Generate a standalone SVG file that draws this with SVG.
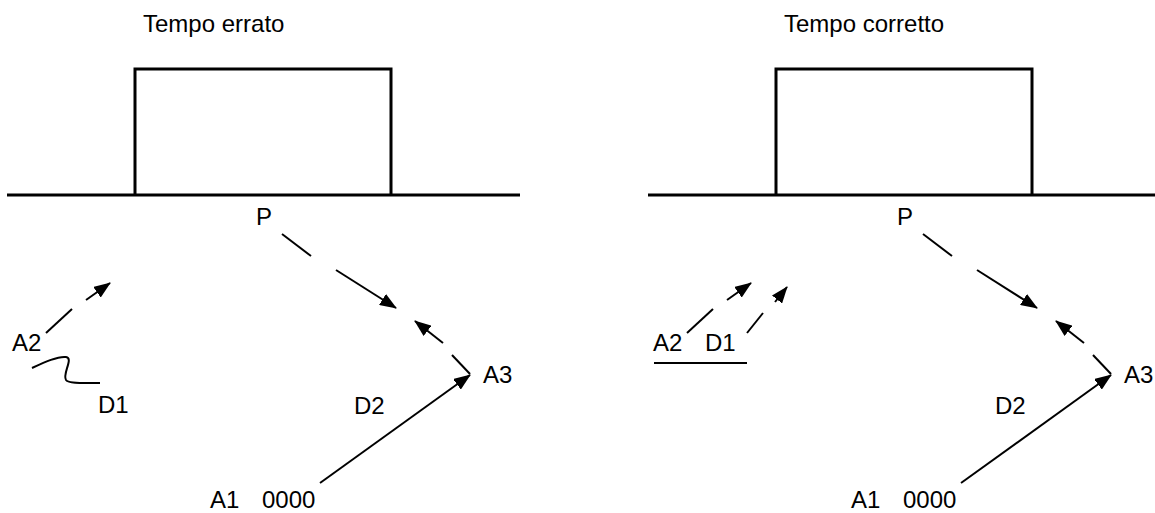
<svg xmlns="http://www.w3.org/2000/svg" width="1155" height="513" viewBox="0 0 1155 513">
  <style>
    .t { font-family: "Liberation Sans", Arial, sans-serif; font-size: 24px; fill: #000; }
    .thick { fill: none; stroke: #000; stroke-width: 3; }
    .ln { fill: none; stroke: #000; stroke-width: 2; }
  </style>
  <defs>
    <marker id="ah" markerUnits="userSpaceOnUse" markerWidth="17" markerHeight="13" refX="16" refY="6.5" orient="auto">
      <path d="M0,0 L17,6.5 L0,13 z" fill="#000"/>
    </marker>
  </defs>
  <rect width="1155" height="513" fill="#fff"/>

  <!-- Left panel -->
  <g id="left-panel">
    <text id="title-left" class="t" x="143" y="32">Tempo errato</text>
    <g id="pulse-left">
      <line class="thick" x1="7" y1="195" x2="520" y2="195"/>
      <polyline class="thick" points="135,195 135,69 391,69 391,195"/>
    </g>
    <text id="P-left" class="t" x="256" y="225">P</text>
    <text id="A3-left" class="t" x="483" y="383">A3</text>
    <text id="D2-left" class="t" x="354" y="414">D2</text>
    <text id="A1-left" class="t" x="210" y="508">A1</text>
    <text id="n0000-left" class="t" x="262" y="508">0000</text>
    <text id="A2-left" class="t" x="12" y="351">A2</text>
    <text id="D1-left" class="t" x="98" y="413">D1</text>
  </g>

  <!-- Right panel -->
  <g id="right-panel">
    <text id="title-right" class="t" x="784" y="32">Tempo corretto</text>
    <g id="pulse-right">
      <line class="thick" x1="648" y1="195" x2="1161" y2="195"/>
      <polyline class="thick" points="776,195 776,69 1032,69 1032,195"/>
    </g>
    <text id="P-right" class="t" x="897" y="225">P</text>
    <text id="A3-right" class="t" x="1124" y="383">A3</text>
    <text id="D2-right" class="t" x="995" y="414">D2</text>
    <text id="A1-right" class="t" x="851" y="508">A1</text>
    <text id="n0000-right" class="t" x="903" y="508">0000</text>
    <text id="A2-right" class="t" x="653" y="351">A2</text>
    <text id="D1-right" class="t" x="705" y="351">D1</text>
    <line id="underline-right" class="ln" x1="654" y1="363" x2="747" y2="363" stroke-width="1.5"/>
  </g>

  <g id="connectors">
    <!-- left -->
    <line class="ln" x1="282" y1="234" x2="311" y2="256"/>
    <line class="ln" x1="336" y1="270" x2="396" y2="308" marker-end="url(#ah)"/>
    <line class="ln" x1="452" y1="355" x2="470" y2="374"/>
    <line class="ln" x1="443" y1="343" x2="415" y2="321" marker-end="url(#ah)"/>
    <line class="ln" x1="320" y1="483" x2="470" y2="375" marker-end="url(#ah)"/>
    <line class="ln" x1="46" y1="333" x2="72" y2="309"/>
    <line class="ln" x1="86" y1="300" x2="110" y2="283" marker-end="url(#ah)"/>
    <path class="ln" d="M32,368 C45,362 58,356 66,357 C74,358 62,374 66,380 C69,384 84,383 100,383"/>
    <!-- right -->
    <line class="ln" x1="923" y1="234" x2="952" y2="256"/>
    <line class="ln" x1="977" y1="270" x2="1037" y2="308" marker-end="url(#ah)"/>
    <line class="ln" x1="1093" y1="355" x2="1111" y2="374"/>
    <line class="ln" x1="1084" y1="343" x2="1056" y2="321" marker-end="url(#ah)"/>
    <line class="ln" x1="961" y1="483" x2="1111" y2="375" marker-end="url(#ah)"/>
    <line class="ln" x1="687" y1="333" x2="713" y2="309"/>
    <line class="ln" x1="727" y1="300" x2="751" y2="283" marker-end="url(#ah)"/>
    <line class="ln" x1="747" y1="333" x2="763" y2="313"/>
    <line class="ln" x1="775" y1="302" x2="787" y2="287" marker-end="url(#ah)"/>
  </g>
</svg>
